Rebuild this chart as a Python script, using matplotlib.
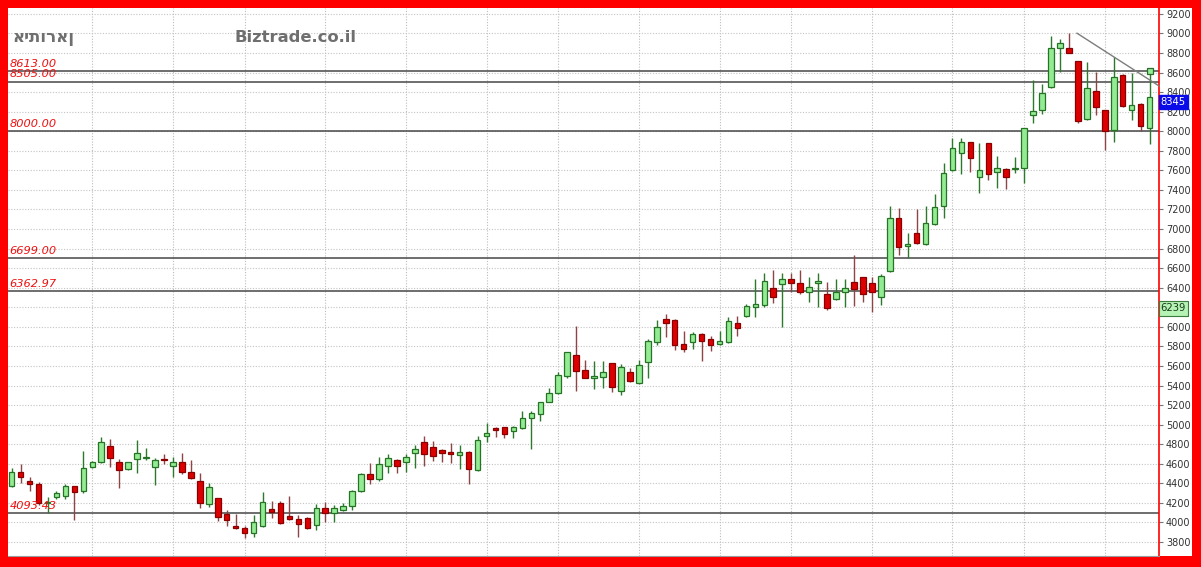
import matplotlib
matplotlib.use("Agg")
import matplotlib.pyplot as plt
import matplotlib.transforms as mtransforms
from matplotlib.patches import Rectangle
import numpy as np

# ---------------- data ----------------
company = "איתוראן"
site = "Biztrade.co.il"

opens = [4373, 4519, 4420, 4390, 4196, 4264, 4271, 4373, 4325, 4564,
         4615, 4782, 4615, 4543, 4645, 4655, 4571, 4649, 4581, 4622,
         4519, 4424, 4185, 4253, 4083, 3964, 3947, 3889, 3964, 4134,
         4196, 4066, 4035, 4042, 3971, 4144, 4100, 4127, 4168, 4322,
         4492, 4441, 4581, 4639, 4615, 4707, 4826, 4775, 4741, 4717,
         4690, 4724, 4536, 4887, 4962, 4980, 4939, 4962, 5065, 5109,
         5235, 5320, 5498, 5712, 5559, 5481, 5491, 5627, 5344, 5542,
         5423, 5637, 5849, 6077, 6070, 5825, 5842, 5927, 5872, 5821,
         5842, 6036, 6111, 6206, 6223, 6394, 6438, 6489, 6445, 6360,
         6452, 6336, 6285, 6360, 6455, 6506, 6445, 6309, 6574, 7110,
         6830, 6956, 6847, 7052, 7236, 7604, 7781, 7894, 7536, 7883,
         7580, 7614, 7614, 7628, 8166, 8218, 8449, 8848, 8848, 8718,
         8125, 8415, 8218, 8013, 8575, 8218, 8275, 8030]
highs = [4553, 4598, 4468, 4417, 4257, 4325, 4393, 4373, 4734, 4632,
         4877, 4853, 4645, 4622, 4843, 4758, 4656, 4697, 4666, 4707,
         4639, 4502, 4400, 4253, 4127, 4087, 3964, 4076, 4315, 4223,
         4219, 4271, 4076, 4059, 4189, 4213, 4179, 4196, 4332, 4509,
         4611, 4673, 4697, 4649, 4697, 4792, 4884, 4836, 4751, 4816,
         4792, 4731, 4884, 5020, 4973, 4980, 4986, 5140, 5140, 5235,
         5371, 5542, 5740, 6009, 5661, 5654, 5654, 5634, 5620, 5576,
         5661, 5876, 6070, 6128, 6077, 5958, 5944, 5941, 5907, 5961,
         6097, 6114, 6234, 6486, 6547, 6581, 6547, 6547, 6581, 6513,
         6547, 6462, 6486, 6486, 6735, 6506, 6513, 6540, 7236, 7212,
         6956, 7202, 7236, 7359, 7672, 7928, 7928, 7894, 7883, 7883,
         7747, 7628, 7740, 8035, 8524, 8483, 8974, 8940, 9008, 8718,
         8712, 8609, 8218, 8756, 8586, 8599, 8286, 8600]
lows = [4366, 4407, 4322, 4179, 4093, 4243, 4236, 4025, 4298, 4553,
        4605, 4571, 4349, 4536, 4509, 4639, 4383, 4594, 4468, 4492,
        4441, 4144, 4161, 4015, 3964, 3930, 3838, 3848, 3957, 4042,
        3984, 4025, 3855, 3933, 3923, 4008, 4008, 4121, 4127, 4315,
        4393, 4424, 4509, 4502, 4513, 4560, 4581, 4632, 4615, 4611,
        4543, 4390, 4530, 4826, 4877, 4860, 4860, 4956, 4748, 5041,
        5228, 5314, 5474, 5348, 5474, 5361, 5371, 5331, 5303, 5440,
        5416, 5481, 5815, 5900, 5763, 5746, 5774, 5651, 5753, 5815,
        5832, 5907, 6104, 6097, 6200, 6241, 6002, 6360, 6333, 6258,
        6206, 6172, 6275, 6206, 6213, 6258, 6155, 6223, 6560, 6735,
        6701, 6847, 6837, 7042, 7110, 7597, 7563, 7587, 7365, 7502,
        7416, 7406, 7570, 7474, 8088, 8177, 8439, 8609, 8804, 8088,
        8115, 8166, 7808, 7894, 8252, 8115, 8006, 7870]
closes = [4519, 4461, 4393, 4196, 4203, 4305, 4373, 4315, 4553, 4615,
          4826, 4656, 4536, 4615, 4707, 4662, 4639, 4639, 4622, 4513,
          4451, 4196, 4359, 4059, 4025, 3940, 3889, 4008, 4206, 4110,
          3998, 4032, 3981, 3947, 4144, 4093, 4144, 4168, 4325, 4495,
          4441, 4594, 4656, 4577, 4666, 4748, 4700, 4683, 4707, 4697,
          4724, 4543, 4843, 4918, 4945, 4905, 4980, 5065, 5116, 5235,
          5327, 5508, 5740, 5552, 5474, 5491, 5542, 5382, 5593, 5450,
          5610, 5859, 5995, 6036, 5815, 5770, 5927, 5855, 5815, 5855,
          6060, 5992, 6213, 6230, 6469, 6309, 6489, 6445, 6360, 6404,
          6469, 6196, 6353, 6394, 6384, 6336, 6360, 6523, 7110, 6820,
          6844, 6854, 7059, 7222, 7570, 7825, 7894, 7723, 7604, 7563,
          7621, 7536, 7621, 8030, 8211, 8388, 8848, 8899, 8804, 8108,
          8439, 8252, 8006, 8551, 8258, 8269, 8054, 8345]

levels = [8613.00, 8505.00, 8000.00, 6699.00, 6362.97, 4093.43]
level_labels = ["8613.00", "8505.00", "8000.00", "6699.00", "6362.97", "4093.43"]
vgrid_pos = [9, 18, 26, 35, 44, 53, 61, 70, 79, 87, 96, 105, 113, 122]
yticks = list(range(3800, 9201, 200))
trend_x = [118.9, 128.05]
trend_y = [9002, 8463]
last_price = 8345
marker_price = 8613
side_price = 6239

# ---------------- figure ----------------
W, H = 1201, 567
fig = plt.figure(figsize=(W / 100, H / 100), dpi=100, facecolor="#ff0000")
# white panel inside red frame
fig.patches.append(Rectangle((8 / W, 11 / H), 1184 / W, 548 / H,
                             transform=fig.transFigure, facecolor="white",
                             edgecolor="none", zorder=-5))

ax = fig.add_axes([8 / W, 11 / H, 1151 / W, 548 / H])
ax.set_zorder(2)
ax.set_facecolor("white")
ax.set_xlim(-0.41, 128.05)
ax.set_ylim(3657, 9260)

# grid
for v in yticks:
    ax.axhline(v, color="#c4c4c4", lw=0.8, ls=(0, (1, 1.5)), zorder=1)
for p in vgrid_pos:
    ax.axvline(p, color="#bdbdbd", lw=0.8, ls=(0, (1, 1.5)), zorder=1)

bt = mtransforms.blended_transform_factory(ax.transAxes, ax.transData)

# level lines
for lv, lab in zip(levels, level_labels):
    ax.axhline(lv, color="#474747", lw=1.1, zorder=2)
    ax.text(0.0015, lv + 45, lab, transform=bt,
            color="#ee1111", fontsize=8.2, style="italic", ha="left", va="baseline", zorder=6)

# candles
x = np.arange(len(opens))
o = np.array(opens, float)
c = np.array(closes, float)
h = np.array(highs, float)
l = np.array(lows, float)
up = c >= o
wick_col = np.where(up, "#2b7a2b", "#8c4444")
ax.vlines(x, l, h, colors=wick_col, lw=1, zorder=3)
bottoms = np.minimum(o, c)
heights = np.maximum(np.abs(c - o), 14)
ax.bar(x[up], heights[up], bottom=bottoms[up], width=0.62,
       color="#93ec93", edgecolor="#267326", lw=0.9, zorder=4)
ax.bar(x[~up], heights[~up], bottom=bottoms[~up], width=0.62,
       color="#dd0000", edgecolor="#8a0000", lw=0.9, zorder=4)

# trend line
ax.plot(trend_x, trend_y, color="#7d7d7d", lw=1, zorder=5, clip_on=False)
# marker
ax.plot([len(opens) - 1], [marker_price], marker="s", ms=4.5, mfc="#93ec93",
        mec="#2b6b2b", mew=0.9, zorder=6, ls="none")

# axes styling
for s in ["left", "top"]:
    ax.spines[s].set_visible(False)
ax.spines["right"].set_color("#ff0000")
ax.spines["right"].set_linewidth(1.2)
ax.spines["bottom"].set_color("#9a9a9a")
ax.spines["bottom"].set_linewidth(0.8)
ax.set_xticks([])
ax.yaxis.tick_right()
ax.set_yticks(yticks)
# the 6200 label is hidden behind the 6239 price box in the reference
ax.set_yticklabels(["" if t == 6200 else str(t) for t in yticks])
ax.tick_params(axis="y", right=True, left=False, length=3, width=0.8, color="#777777",
               labelsize=7, labelcolor="#333333", pad=2)

# price boxes on the axis
ax.text(1.0015, last_price + 8, str(last_price), transform=bt, ha="left", va="top",
        color="white", fontsize=7.2, zorder=10, clip_on=False,
        bbox=dict(boxstyle="square,pad=0.22", fc="#0b0bea", ec="#0b0bea"))
ax.text(1.0015, side_price, str(side_price), transform=bt, ha="left", va="top",
        color="#1a3a1a", fontsize=7.2, zorder=10, clip_on=False,
        bbox=dict(boxstyle="square,pad=0.22", fc="#b4f3b4", ec="#3b7b3b", lw=0.8))

# titles
fig.text(12.5 / W, 1 - 41.5 / H, company, color="#6f6f6f", fontsize=12,
         fontweight="bold", family="DejaVu Sans", ha="left", va="baseline")
fig.text(234 / W, 1 - 41.5 / H, site, color="#6f6f6f", fontsize=11.8,
         fontweight="bold", family="DejaVu Sans", ha="left", va="baseline")

fig.savefig("out.png", dpi=100, facecolor=fig.get_facecolor())
